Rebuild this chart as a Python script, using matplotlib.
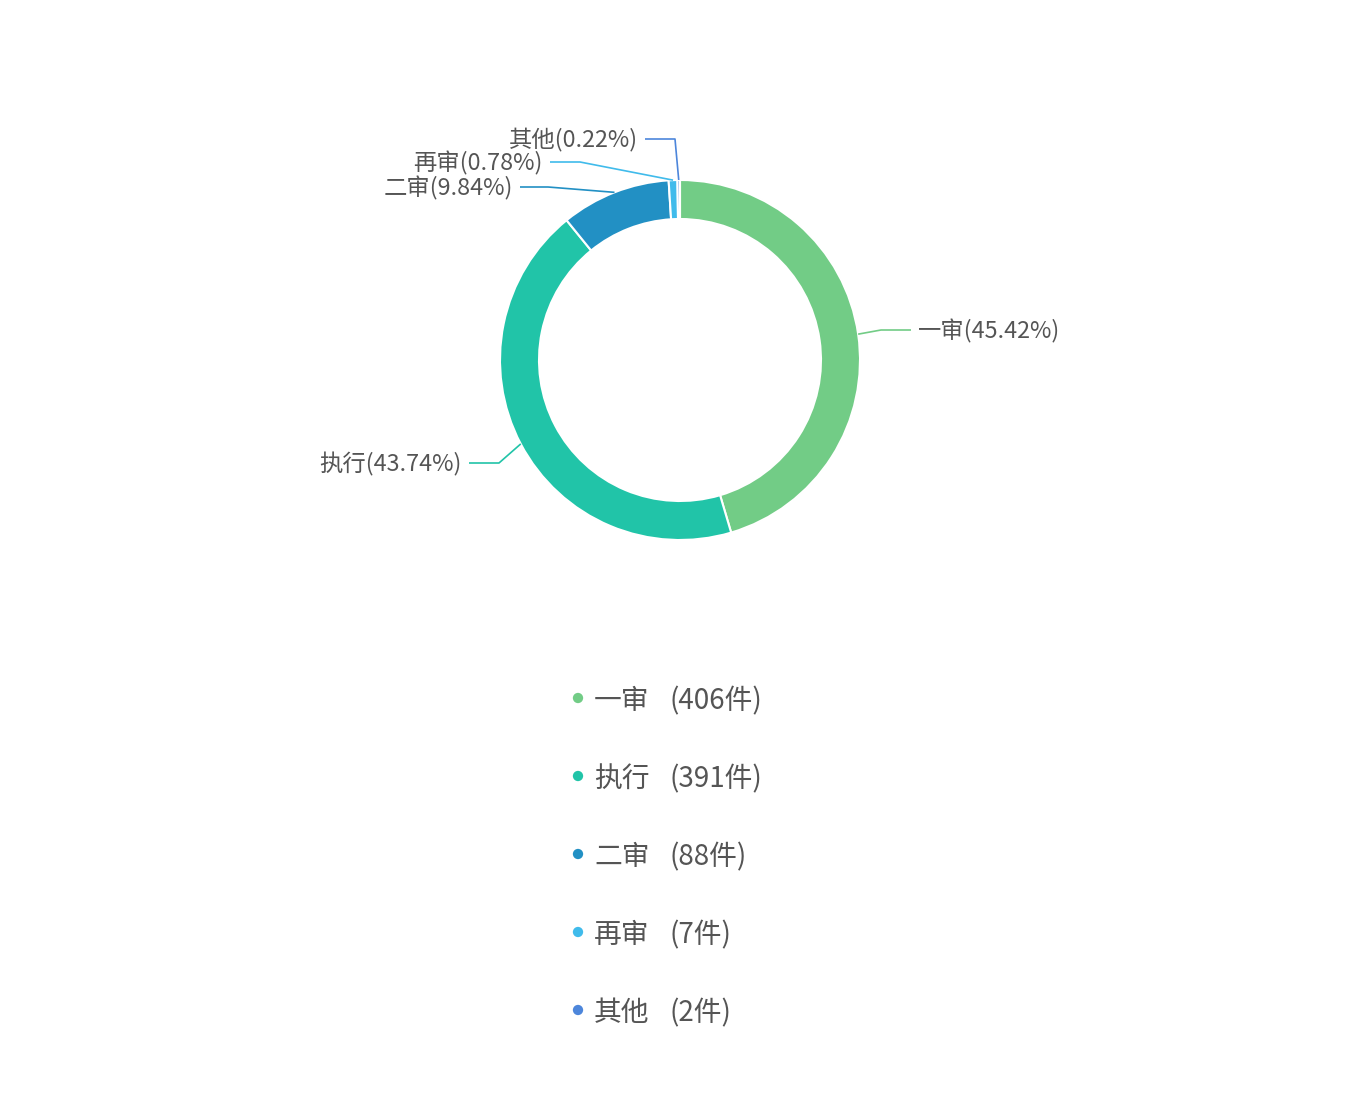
import numpy as np
import matplotlib.pyplot as plt

plt.rcParams['font.family'] = ['Noto Sans CJK SC', 'DejaVu Sans']

# data
categories = ['一审', '执行', '二审', '再审', '其他']
counts = [406, 391, 88, 7, 2]
pct_labels = ['45.42%', '43.74%', '9.84%', '0.78%', '0.22%']
colors = ['#72CC86', '#21C4A8', '#2290C4', '#40BBEB', '#4D86DB']

# label layout (pixel units, y measured from top): elbow x, end x, label y
elbow_x = [881, 499, 548, 580, 675]
end_x = [911, 469, 520, 550, 645]
label_y = [331, 464, 188, 163, 140]

W, H = 1360, 1100
fig = plt.figure(figsize=(W / 100, H / 100), dpi=100)
ax = fig.add_axes([0, 0, 1, 1])

cx, cy, r_out, r_in = 680, H - 360, 180, 141
wedges, _ = ax.pie(counts, colors=colors, startangle=90, counterclock=False,
                   radius=r_out, center=(cx, cy),
                   wedgeprops=dict(width=r_out - r_in, edgecolor='white', linewidth=1.5))
ax.set_xlim(0, W)
ax.set_ylim(0, H)
ax.set_aspect('equal')
ax.axis('off')

text_color = '#555555'
for i, w in enumerate(wedges):
    ang = np.deg2rad((w.theta1 + w.theta2) / 2)
    sx = cx + r_out * np.cos(ang)
    sy = cy + r_out * np.sin(ang)
    ly = H - label_y[i]
    ax.plot([sx, elbow_x[i], end_x[i] + (0 if end_x[i] > cx else 0)], [sy, ly + 1, ly + 1],
            color=colors[i], lw=1.2, solid_capstyle='butt')
    right = end_x[i] > cx
    ax.text(end_x[i] + (7 if right else -7), ly, f'{categories[i]}({pct_labels[i]})',
            ha='left' if right else 'right', va='center', fontsize=16.8, color=text_color)

# legend
leg_y0, leg_dy = 698, 78
for i, cat in enumerate(categories):
    y = H - (leg_y0 + i * leg_dy)
    ax.scatter([578], [y], s=55, color=colors[i], edgecolors='none')
    ax.text(594, y - 3, cat, ha='left', va='center', fontsize=20, color=text_color)
    ax.text(669, y - 3, f'({counts[i]}件)', ha='left', va='center',
            fontsize=20, color=text_color)

fig.savefig('out.png', dpi=100, facecolor='white')
